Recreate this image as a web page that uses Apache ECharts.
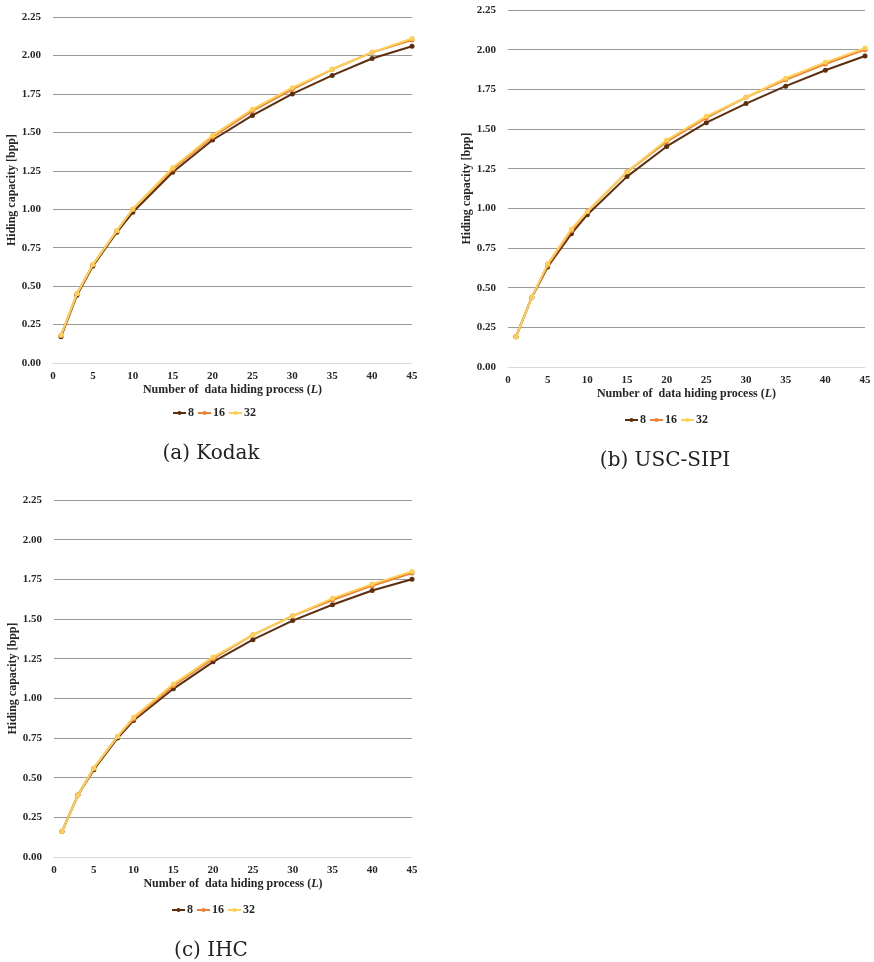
<!DOCTYPE html>
<html>
<head>
<meta charset="utf-8">
<script src="https://cdn.jsdelivr.net/npm/echarts@6/dist/echarts.min.js"></script>
<style>
  html, body { margin: 0; padding: 0; background: #ffffff; }
  #chart { width: 874px; height: 962px; }
</style>
</head>
<body>
<div id="chart"></div>
<script>
// Number of data hiding processes (L)
var L = [1, 3, 5, 8, 10, 15, 20, 25, 30, 35, 40, 45];

// Hiding capacity [bpp] for block sizes 8 / 16 / 32
var kodak8  = [0.17, 0.44, 0.63, 0.85, 0.98, 1.24, 1.45, 1.61, 1.75, 1.87, 1.98, 2.06];
var kodak16 = [0.18, 0.45, 0.64, 0.86, 1.00, 1.26, 1.47, 1.64, 1.78, 1.91, 2.02, 2.10];
var kodak32 = [0.18, 0.45, 0.64, 0.86, 1.00, 1.27, 1.48, 1.65, 1.79, 1.91, 2.02, 2.11];

var sipi8  = [0.19, 0.44, 0.63, 0.84, 0.96, 1.20, 1.39, 1.54, 1.66, 1.77, 1.87, 1.96];
var sipi16 = [0.19, 0.44, 0.64, 0.86, 0.98, 1.23, 1.42, 1.57, 1.70, 1.81, 1.91, 2.00];
var sipi32 = [0.19, 0.44, 0.65, 0.87, 0.98, 1.23, 1.43, 1.58, 1.70, 1.82, 1.92, 2.01];

var ihc8  = [0.16, 0.39, 0.55, 0.75, 0.86, 1.06, 1.23, 1.37, 1.49, 1.59, 1.68, 1.75];
var ihc16 = [0.16, 0.39, 0.56, 0.76, 0.87, 1.08, 1.25, 1.40, 1.52, 1.62, 1.71, 1.79];
var ihc32 = [0.16, 0.39, 0.56, 0.76, 0.88, 1.09, 1.26, 1.40, 1.52, 1.63, 1.72, 1.80];

var seriesNames = ['8', '16', '32'];
var captions = ['(a) Kodak', '(b) USC-SIPI', '(c) IHC'];

var colors = ['#5c2e0e', '#ef8133', '#ffcf55'];
var serif = '"Liberation Serif", "Times New Roman", serif';

// baseline gridline is lighter than the others
var gridColors = ['#d9d9d9'];
for (var g = 0; g < 9; g++) gridColors.push('#9a9a9a');

var panels = [
  { sets: [kodak8, kodak16, kodak32], grid: { left: 53, right: 462, top: 17, bottom: 599 },
    legend: { left: 172, top: 407 }, caption: { x: 211, y: 444 } },
  { sets: [sipi8, sipi16, sipi32], grid: { left: 508, right: 9, top: 10, bottom: 595 },
    legend: { left: 624, top: 414 }, caption: { x: 665, y: 451 } },
  { sets: [ihc8, ihc16, ihc32], grid: { left: 54, right: 462, top: 500, bottom: 105 },
    legend: { left: 171, top: 904 }, caption: { x: 211, y: 941 } }
];

function pairs(values) {
  return L.map(function (l, i) { return [l, values[i]]; });
}

var grids = [], xAxes = [], yAxes = [], series = [], legends = [], titles = [];

panels.forEach(function (p, k) {
  grids.push(p.grid);
  xAxes.push({
    type: 'value', gridIndex: k, min: 0, max: 45, interval: 5,
    axisLine: { show: true, lineStyle: { color: '#d9d9d9', width: 1 } },
    axisTick: { show: false },
    splitLine: { show: false },
    axisLabel: { fontFamily: serif, fontWeight: 'bold', fontSize: 11, color: '#262626', margin: 8 },
    name: '{t|Number of  data hiding process (}{i|L}{t|)}',
    nameLocation: 'middle', nameGap: 21,
    nameTextStyle: {
      rich: {
        t: { fontFamily: serif, fontWeight: 'bold', fontSize: 12, color: '#262626' },
        i: { fontFamily: serif, fontWeight: 'bold', fontStyle: 'italic', fontSize: 12, color: '#262626' }
      }
    }
  });
  yAxes.push({
    type: 'value', gridIndex: k, min: 0, max: 2.25, interval: 0.25,
    axisLine: { show: false },
    axisTick: { show: false },
    splitLine: { show: true, lineStyle: { color: gridColors, width: 1 } },
    axisLabel: {
      fontFamily: serif, fontWeight: 'bold', fontSize: 11, color: '#262626', margin: 12,
      formatter: function (v) { return v.toFixed(2); }
    },
    name: 'Hiding capacity [bpp]',
    nameLocation: 'middle', nameGap: 34,
    nameTextStyle: { fontFamily: serif, fontWeight: 'bold', fontSize: 12, color: '#262626' }
  });
  p.sets.forEach(function (vals, s) {
    series.push({
      name: seriesNames[s], type: 'line', xAxisIndex: k, yAxisIndex: k,
      data: pairs(vals),
      symbol: 'circle', symbolSize: 5,
      lineStyle: { color: colors[s], width: 2 },
      itemStyle: { color: colors[s] },
      z: 2 + s
    });
  });
  legends.push({
    data: seriesNames, left: p.legend.left, top: p.legend.top, padding: 0,
    itemWidth: 13, itemHeight: 5, itemGap: 3,
    textStyle: { fontFamily: serif, fontWeight: 'bold', fontSize: 12, color: '#262626', padding: [0, 0, 0, -3] },
    selectedMode: false
  });
  titles.push({
    text: captions[k], left: p.caption.x, top: p.caption.y, textAlign: 'center', padding: 0,
    textStyle: { fontFamily: '"DejaVu Serif", serif', fontWeight: 'normal', fontSize: 20, color: '#222222' }
  });
});

var chart = echarts.init(document.getElementById('chart'), null, { renderer: 'canvas' });
chart.setOption({
  backgroundColor: '#ffffff',
  animation: false,
  title: titles,
  grid: grids,
  xAxis: xAxes,
  yAxis: yAxes,
  legend: legends,
  series: series
});
</script>
</body>
</html>
